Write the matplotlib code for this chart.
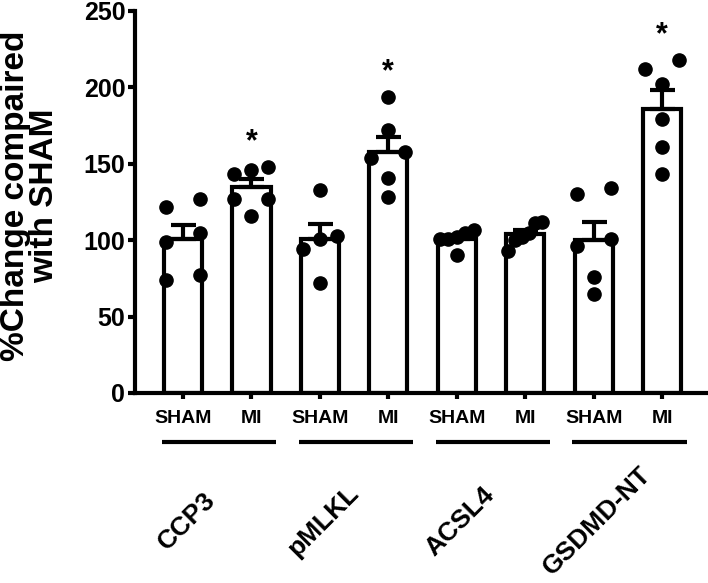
import matplotlib
matplotlib.use('Agg')
import matplotlib.pyplot as plt
import numpy as np

plt.rcParams['font.family'] = ['Liberation Sans', 'DejaVu Sans']
plt.rcParams['font.weight'] = 'bold'

# data
proteins = ['CCP3', 'pMLKL', 'ACSL4', 'GSDMD-NT']
groups = ['SHAM', 'MI']
values = [
    [122, 127, 99, 105, 74, 77],      # CCP3 SHAM
    [148, 146, 143, 127, 127, 116],   # CCP3 MI
    [133, 103, 101, 94, 72],          # pMLKL SHAM
    [194, 172, 154, 158, 141, 128],   # pMLKL MI
    [107, 105, 102, 101, 101, 90],    # ACSL4 SHAM
    [111, 112, 105, 102, 100, 93],    # ACSL4 MI
    [130, 134, 101, 96, 76, 65],      # GSDMD-NT SHAM
    [212, 218, 202, 179, 161, 143],   # GSDMD-NT MI
]
significant = [False, True, False, True, False, False, False, True]


def swarm_offsets(vals, gap=8.5, half_width=0.25):
    # simple GraphPad-like spread: neighbours closer than one dot get spread out
    vals = np.asarray(vals, dtype=float)
    order = np.argsort(vals)
    offs = np.zeros(len(vals))
    clusters = [[order[0]]]
    for idx in order[1:]:
        if vals[idx] - vals[clusters[-1][-1]] < gap:
            clusters[-1].append(idx)
        else:
            clusters.append([idx])
    for cl in clusters:
        n = len(cl)
        if n > 1:
            offs[cl] = np.linspace(-half_width, half_width, n)
    return offs


fig = plt.figure(figsize=(7.08, 5.83), dpi=100)
ax = fig.add_axes([135 / 708, 1 - 393 / 583, 1 - 135 / 708, (393 - 11) / 583])

x = np.arange(len(values))
means = np.array([np.mean(v) for v in values])
sems = np.array([np.std(v, ddof=1) / np.sqrt(len(v)) for v in values])

ax.bar(x, means, width=0.56, color='white', edgecolor='black', linewidth=3, zorder=2)
ax.errorbar(x, means, yerr=[np.zeros_like(sems), sems], fmt='none', ecolor='black',
            elinewidth=3, capsize=9, capthick=3, zorder=3)

for i, v in enumerate(values):
    ax.plot(i + swarm_offsets(v), v, 'o', color='black', markersize=9.5, zorder=4,
            clip_on=False)
    if significant[i]:
        ax.text(i, max(v) + 6, '*', ha='center', va='bottom', fontsize=22,
                fontweight='bold')

ax.set_xlim(-0.70, 7.67)
ax.set_ylim(0, 250)
ax.set_yticks([0, 50, 100, 150, 200, 250])
ax.set_xticks(x)
ax.set_xticklabels(groups * len(proteins), fontsize=14, fontweight='bold')
ax.tick_params(axis='y', direction='out', length=5, width=3, labelsize=18, pad=2)
ax.tick_params(axis='x', direction='out', length=4, width=3, pad=8)
for lab in ax.get_yticklabels():
    lab.set_fontweight('bold')

for s in ['top', 'right']:
    ax.spines[s].set_visible(False)
for s in ['left', 'bottom']:
    ax.spines[s].set_linewidth(3)

# group bars and protein names under the axis
for g, name in enumerate(proteins):
    x0 = 2 * g
    ax.plot([x0 - 0.31, x0 + 1.36], [-32, -32], color='black', linewidth=3,
            clip_on=False, solid_capstyle='butt')
    ax.text(x0 + 0.5 - 0.45, -84, name, rotation=45, ha='center', va='center',
            fontsize=19, fontweight='bold', clip_on=False)

fig.text(30 / 708, 1 - 196 / 583, '%Change compaired\nwith SHAM', rotation=90,
         ha='center', va='center', multialignment='center', fontsize=24,
         fontweight='bold', linespacing=0.95)

fig.savefig('out.png', dpi=100)
